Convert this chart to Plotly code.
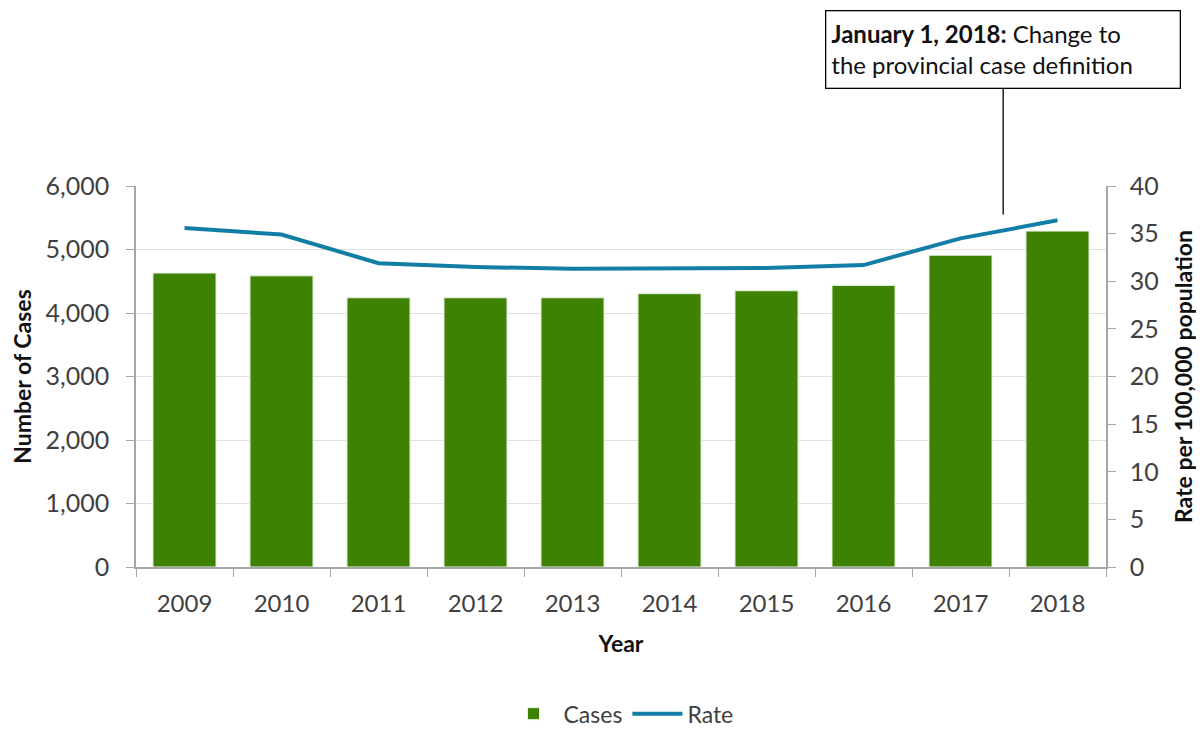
import plotly.graph_objects as go

years = ["2009", "2010", "2011", "2012", "2013", "2014", "2015", "2016", "2017", "2018"]
cases = [4630, 4585, 4240, 4240, 4240, 4305, 4350, 4435, 4910, 5290]
rate = [35.6, 34.9, 31.9, 31.5, 31.3, 31.4, 31.4, 31.7, 34.5, 36.4]
left_ticks = [0, 1000, 2000, 3000, 4000, 5000, 6000]
right_ticks = [0, 5, 10, 15, 20, 25, 30, 35, 40]

FONT = "Lato"
TICK_COLOR = "#404040"
AXIS_COLOR = "#a6a6a6"
GRID_COLOR = "#e0e0e0"

fig = go.Figure()
fig.add_trace(go.Bar(
    x=years, y=cases, name="Cases",
    marker=dict(color="#3e8204", line=dict(color="#e8f0e0", width=1)),
    yaxis="y",
))
fig.add_trace(go.Scatter(
    x=years, y=rate, name="Rate", mode="lines",
    line=dict(color="#127ea6", width=4),
    yaxis="y2",
))

fig.add_annotation(
    x=8.44, y=37.0, xref="x", yref="y2",
    text="<b>January 1, 2018:</b> Change to<br>the provincial case definition",
    showarrow=True, arrowhead=0, arrowwidth=1.3, arrowcolor="black",
    ax=0, ay=-165,
    align="left", width=343, height=66, borderpad=5,
    bordercolor="black", borderwidth=1.3, bgcolor="white",
    font=dict(family=FONT, size=24, color="#111111"),
)

# page body has an 8px margin; compensate so plot area sits at x 136-1106, y 186-567
fig.update_layout(
    width=1196, height=728,
    paper_bgcolor="white", plot_bgcolor="white",
    margin=dict(l=128, r=98, t=178, b=169, autoexpand=False),
    font=dict(family=FONT, size=22, color=TICK_COLOR),
    bargap=0.35,
    showlegend=True,
    legend=dict(orientation="h", x=0.5, xanchor="center", y=-0.385, yanchor="middle",
                font=dict(family=FONT, size=23, color=TICK_COLOR), traceorder="normal",
                itemwidth=50),
    xaxis=dict(
        title=dict(text="<b>Year</b>", font=dict(family=FONT, size=23, color="#111111"), standoff=20),
        tickfont=dict(family=FONT, size=24, color=TICK_COLOR),
        showline=True, linecolor=AXIS_COLOR, linewidth=1.5,
        ticks="outside", tickson="boundaries", ticklen=8, tickcolor=AXIS_COLOR,
        ticklabelstandoff=14,
        range=[-0.5, 9.5],
        showgrid=False, automargin=False,
    ),
    yaxis=dict(
        title=dict(text="<b>Number of Cases</b>", font=dict(family=FONT, size=23, color="#111111"), standoff=14),
        range=[0, 6000], tickvals=left_ticks, tickformat=",d",
        tickfont=dict(family=FONT, size=25, color=TICK_COLOR),
        showline=True, linecolor=AXIS_COLOR, linewidth=1.5,
        ticks="outside", ticklen=8, tickcolor=AXIS_COLOR,
        ticklabelstandoff=12,
        showgrid=True, gridcolor=GRID_COLOR, gridwidth=1.2,
        zeroline=False, automargin=False,
    ),
    yaxis2=dict(
        title=dict(text="<b>Rate per 100,000 population</b>", font=dict(family=FONT, size=23, color="#111111"), standoff=18),
        range=[0, 40], tickvals=right_ticks,
        overlaying="y", side="right",
        tickfont=dict(family=FONT, size=25, color=TICK_COLOR),
        showline=True, linecolor=AXIS_COLOR, linewidth=1.5,
        ticks="outside", ticklen=8, tickcolor=AXIS_COLOR,
        ticklabelstandoff=9,
        showgrid=False, zeroline=False, automargin=False,
    ),
)

fig.write_html("out.html")
